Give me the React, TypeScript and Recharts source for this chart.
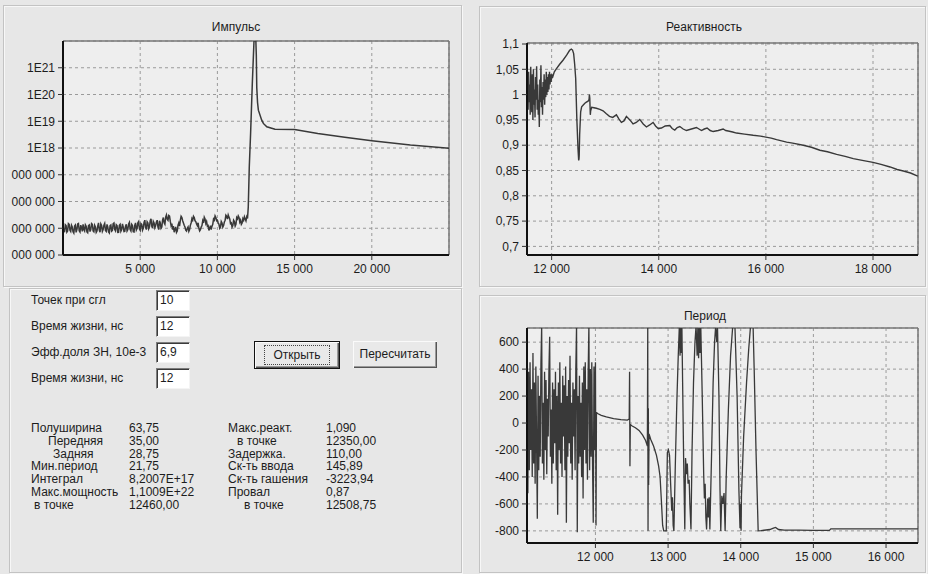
import React from 'react';
import { LineChart, Line, XAxis, YAxis, CartesianGrid, ReferenceLine } from 'recharts';

const FONT = '"Liberation Sans", Arial, Helvetica, sans-serif';
const LINE = '#393939';
const GRID = '#9a9a9a';
const PLOT_BG = '#eeeeee';
const PAGE_BG = '#e7e7e7';

// ---------- Импульс ----------
const pulseX = [
  0, 50, 100, 150, 200, 250, 300, 350, 400, 450, 500, 550, 600, 650, 700, 750, 800, 850, 900, 950,
  1000, 1050, 1100, 1150, 1200, 1250, 1300, 1350, 1400, 1450, 1500, 1550, 1600, 1650, 1700, 1750, 1800, 1850, 1900, 1950,
  2000, 2050, 2100, 2150, 2200, 2250, 2300, 2350, 2400, 2450, 2500, 2550, 2600, 2650, 2700, 2750, 2800, 2850, 2900, 2950,
  3000, 3050, 3100, 3150, 3200, 3250, 3300, 3350, 3400, 3450, 3500, 3550, 3600, 3650, 3700, 3750, 3800, 3850, 3900, 3950,
  4000, 4050, 4100, 4150, 4200, 4250, 4300, 4350, 4400, 4450, 4500, 4550, 4600, 4650, 4700, 4750, 4800, 4850, 4900, 4950,
  5000, 5050, 5100, 5150, 5200, 5250, 5300, 5350, 5400, 5450, 5500, 5550, 5600, 5650, 5700, 5750, 5800, 5850, 5900, 5950,
  6000, 6050, 6100, 6150, 6200, 6250, 6300, 6350, 6400, 6450, 6500, 6550, 6600, 6650, 6700, 6750, 6800, 6850, 6900, 6950,
  7000, 7050, 7100, 7150, 7200, 7250, 7300, 7350, 7400, 7450, 7500, 7550, 7600, 7650, 7700, 7750, 7800, 7850, 7900, 7950,
  8000, 8050, 8100, 8150, 8200, 8250, 8300, 8350, 8400, 8450, 8500, 8550, 8600, 8650, 8700, 8750, 8800, 8850, 8900, 8950,
  9000, 9050, 9100, 9150, 9200, 9250, 9300, 9350, 9400, 9450, 9500, 9550, 9600, 9650, 9700, 9750, 9800, 9850, 9900, 9950,
  10000, 10050, 10100, 10150, 10200, 10250, 10300, 10350, 10400, 10450, 10500, 10550, 10600, 10650, 10700, 10750, 10800, 10850, 10900, 10950,
  11000, 11050, 11100, 11150, 11200, 11250, 11300, 11350, 11400, 11450, 11500, 11550, 11600, 11650, 11700, 11750, 11800, 11850, 11900, 11950,
  12000, 12065, 12150, 12260, 12370, 12460, 12490, 12520, 12550, 12600, 12654, 12870, 12977, 13200, 13730, 15000, 16500, 18250, 20000, 22500, 25000,
];
const pulseY = [
  1.12e15, 8.3e14, 7.08e14, 1.35e15, 1.26e15, 7.2e14, 7.94e14, 1.5e15, 1.41e15, 8.5e14, 7.59e14, 1.3e15, 1.12e15, 7.4e14, 6.61e14, 1.2e15, 1.32e15, 7.0e14, 8.91e14, 1.45e15,
  1.51e15, 8.0e14, 7.24e14, 1.3e15, 1.05e15, 7.6e14, 1.41e15, 9.0e14, 7.94e14, 1.35e15, 1.2e15, 7.3e14, 6.76e14, 1.25e15, 1.32e15, 7.5e14, 8.91e14, 1.5e15, 1.41e15, 8.0e14,
  7.41e14, 1.3e15, 1.12e15, 7.0e14, 7.94e14, 1.2e15, 1.58e15, 8.5e14, 7.08e14, 1.45e15, 1.26e15, 7.6e14, 8.91e14, 1.3e15, 1.51e15, 8.2e14, 7.59e14, 1.4e15, 1.12e15, 7.2e14,
  6.61e14, 1.25e15, 1.32e15, 7.8e14, 8.32e14, 1.5e15, 1.58e15, 8.9e14, 7.94e14, 1.35e15, 1.26e15, 7.0e14, 7.08e14, 1.3e15, 1.41e15, 7.7e14, 8.91e14, 1.45e15, 1.12e15, 7.5e14,
  7.59e14, 1.2e15, 1.41e15, 7.9e14, 8.91e14, 1.45e15, 1.66e15, 9.0e14, 7.94e14, 1.4e15, 1.26e15, 7.4e14, 7.24e14, 1.3e15, 1.58e15, 8.6e14, 1.0e15, 1.6e15, 1.78e15, 9.5e14,
  8.32e14, 1.5e15, 1.41e15, 8.5e14, 1.0e15, 1.7e15, 2.0e15, 1.05e15, 8.91e14, 1.75e15, 1.58e15, 9.5e14, 1.12e15, 1.9e15, 2.24e15, 1.2e15, 1.0e15, 1.8e15, 1.58e15, 1.05e15,
  1.26e15, 1.7e15, 2.0e15, 1.1e15, 8.91e14, 1.9e15, 1.58e15, 1.0e15, 1.12e15, 2.0e15, 2.51e15, 1.6e15, 1.41e15, 2.6e15, 3.16e15, 2.2e15, 2.0e15, 3.0e15, 2.82e15, 1.8e15,
  1.26e15, 1.5e15, 8.91e14, 1.2e15, 7.08e14, 9.0e14, 1.12e15, 7.0e14, 7.94e14, 1.3e15, 1.58e15, 1.2e15, 2.0e15, 2.8e15, 2.51e15, 1.9e15, 1.58e15, 1.3e15, 1.12e15, 8.5e14,
  7.94e14, 1.0e15, 1.12e15, 7.6e14, 8.91e14, 1.3e15, 1.58e15, 2.3e15, 2.0e15, 2.8e15, 2.51e15, 1.9e15, 1.78e15, 1.45e15, 1.26e15, 1.6e15, 1.0e15, 8.0e14, 8.91e14, 1.1e15,
  1.26e15, 1.9e15, 1.58e15, 2.6e15, 2.24e15, 1.5e15, 1.78e15, 1.2e15, 1.26e15, 8.3e14, 1.0e15, 1.25e15, 8.91e14, 1.2e15, 1.41e15, 2.2e15, 2.0e15, 2.9e15, 2.51e15, 1.9e15,
  2.0e15, 1.6e15, 1.41e15, 1.0e15, 1.12e15, 1.8e15, 1.58e15, 1.1e15, 1.26e15, 1.7e15, 2.0e15, 3.1e15, 2.82e15, 2.2e15, 3.16e15, 2.6e15, 2.24e15, 1.5e15, 1.58e15, 1.1e15,
  1.26e15, 2.0e15, 1.78e15, 1.2e15, 1.41e15, 2.5e15, 2.24e15, 2.9e15, 2.51e15, 1.7e15, 2.0e15, 1.4e15, 1.58e15, 2.3e15, 2.0e15, 2.7e15, 2.24e15, 1.9e15, 2.69e15, 2.3e15,
  6.3e15, 2.0e17, 3.5e18, 2.5e20, 1.0e22, 1.1e22, 1.05e22, 3.0e21, 1.8e20, 5.0e19, 2.6e19, 1.1e19, 8.3e18, 6.2e18, 5.0e18, 4.9e18, 3.5e18, 2.5e18, 1.86e18, 1.29e18, 9.8e17,
];
const pulseTicksX = [5000, 10000, 15000, 20000];
const pulseLabelsX = ['5 000', '10 000', '15 000', '20 000'];
const pulseMinorX = [1000, 2000, 3000, 4000, 5000, 6000, 7000, 8000, 9000, 10000, 11000, 12000, 13000, 14000, 15000, 16000, 17000, 18000, 19000, 20000, 21000, 22000, 23000, 24000];
const pulseTicksY = [1e14, 1e15, 1e16, 1e17, 1e18, 1e19, 1e20, 1e21];
const pulseLabelsY = ['000 000', '000 000', '000 000', '000 000', '1E18', '1E19', '1E20', '1E21'];

// ---------- Реактивность ----------
const reactX = [
  11540, 11550, 11560, 11570, 11580, 11590, 11600, 11610, 11620, 11630,
  11640, 11650, 11660, 11670, 11680, 11690, 11700, 11710, 11720, 11730,
  11740, 11750, 11760, 11770, 11780, 11790, 11800, 11810, 11820, 11830,
  11840, 11850, 11860, 11870, 11880, 11890, 11900, 11910, 11920, 11930,
  11940, 11950, 11960, 11970, 11980, 11990, 12000, 12020,
  12050, 12087, 12150, 12212, 12280, 12336, 12368, 12390, 12411, 12430,
  12449, 12470, 12492, 12505, 12511, 12515, 12523, 12542, 12560, 12586,
  12620, 12648, 12680, 12698, 12705, 12712, 12722, 12729, 12748, 12790,
  12835, 12900, 12960, 13022, 13080, 13140, 13209, 13255, 13302, 13350,
  13396, 13460, 13520, 13580, 13645, 13710, 13770, 13830, 13894, 13940,
  13988, 14050, 14120, 14206, 14250, 14299, 14345, 14393, 14455, 14517,
  14610, 14704, 14750, 14798, 14850, 14903, 14960, 15016, 15110, 15202,
  15250, 15296, 15380, 15452, 15600, 15763, 15900, 16000, 16100, 16200,
  16387, 16500, 16698, 16850, 17009, 17150, 17321, 17480, 17632, 17800,
  18000, 18150, 18318, 18450, 18567, 18700, 18835,
];
const reactY = [
  0.975, 1.03, 0.97, 1.045, 0.985, 1.02, 0.96, 1.055, 0.99, 0.965,
  1.04, 0.95, 1.05, 0.98, 1.01, 0.955, 1.035, 0.99, 1.056, 0.97,
  1.02, 0.96, 0.99, 0.936, 1.03, 0.985, 1.058, 0.975, 1.015, 0.96,
  1.025, 0.99, 1.04, 0.98, 1.03, 0.995, 1.045, 1.0, 1.035, 1.005,
  1.04, 1.01, 1.045, 1.02, 1.04, 1.025, 1.04, 1.035,
  1.045, 1.051, 1.06, 1.068, 1.078, 1.0876, 1.09, 1.088, 1.081, 1.06,
  1.032, 0.953, 0.8933, 0.87, 0.873, 0.88, 0.92, 0.966, 0.976, 0.979,
  0.983, 0.985, 0.987, 0.99, 1.0, 0.993, 0.96, 0.968, 0.975, 0.974,
  0.973, 0.971, 0.968, 0.962, 0.957, 0.955, 0.96, 0.952, 0.945, 0.948,
  0.957, 0.95, 0.942, 0.945, 0.951, 0.942, 0.936, 0.94, 0.945, 0.938,
  0.933, 0.934, 0.938, 0.939, 0.933, 0.93, 0.935, 0.937, 0.932, 0.929,
  0.932, 0.935, 0.932, 0.929, 0.932, 0.934, 0.929, 0.927, 0.929, 0.932,
  0.929, 0.928, 0.926, 0.924, 0.922, 0.9196, 0.918, 0.916, 0.914, 0.911,
  0.906, 0.904, 0.9, 0.896, 0.89, 0.887, 0.882, 0.878, 0.8735, 0.87,
  0.866, 0.862, 0.857, 0.852, 0.849, 0.845, 0.839,
];
const reactTicksX = [12000, 14000, 16000, 18000];
const reactLabelsX = ['12 000', '14 000', '16 000', '18 000'];
const reactMinorX = [12000, 12500, 13000, 13500, 14000, 14500, 15000, 15500, 16000, 16500, 17000, 17500, 18000, 18500];
const reactTicksY = [0.7, 0.75, 0.8, 0.85, 0.9, 0.95, 1, 1.05, 1.1];
const reactLabelsY = ['0,7', '0,75', '0,8', '0,85', '0,9', '0,95', '1', '1,05', '1,1'];

// ---------- Период ----------
const periodX = [
  11060, 11070, 11080, 11090, 11100, 11110, 11120, 11130, 11140, 11150,
  11160, 11170, 11180, 11190, 11200, 11210, 11220, 11230, 11240, 11250,
  11260, 11270, 11280, 11290, 11300, 11310, 11320, 11330, 11340, 11350,
  11360, 11370, 11380, 11390, 11400, 11410, 11420, 11430, 11440, 11450,
  11460, 11470, 11480, 11490, 11500, 11510, 11520, 11530, 11540, 11550,
  11560, 11570, 11580, 11590, 11600, 11610, 11620, 11630, 11640, 11650,
  11660, 11670, 11680, 11690, 11700, 11710, 11720, 11730, 11740, 11750,
  11760, 11770, 11780, 11790, 11800, 11810, 11820, 11830, 11840, 11850,
  11860, 11870, 11880, 11890, 11900, 11910, 11920, 11930, 11940, 11950,
  11960, 11970, 11980, 11990, 12000, 12008, 12014,
  12030, 12080, 12150, 12250, 12350, 12440, 12465, 12470, 12475, 12480,
  12500, 12550, 12600, 12650, 12690, 12715, 12720, 12724, 12728, 12732,
  12738, 12760, 12800, 12840, 12870, 12890, 12910, 12925, 12940, 12975,
  12990, 13005, 13020, 13035, 13050, 13060, 13070, 13080, 13100, 13120,
  13140, 13155, 13165, 13170, 13180, 13190, 13200, 13215, 13230, 13240,
  13255, 13265, 13275, 13290, 13300, 13315, 13330, 13350, 13370, 13385,
  13400, 13410, 13420, 13430, 13440, 13450, 13470, 13490, 13500, 13510,
  13520, 13530, 13545, 13555, 13565, 13575, 13600, 13620, 13640, 13655,
  13670, 13680, 13700, 13715, 13725, 13740, 13755, 13770, 13785, 13800,
  13830, 13860, 13890, 13920, 13950, 13975, 13990, 14000, 14005, 14010,
  14040, 14080, 14110, 14135, 14170, 14185, 14210, 14240, 14280, 14400,
  14450, 14480, 14520, 14600, 14800, 15000, 15220, 15240, 15500, 16000, 16440,
];
const periodY = [
  620, -520, 380, -350, 450, -200, 250, -400, 520, -300,
  300, -450, 420, -150, -710, 350, -350, 200, -250, 450,
  720, -300, 150, -420, 380, -200, 320, -380, 180, -100,
  400, 640, -250, 100, -450, 300, -300, 250, -150, 380,
  -350, 200, -680, 300, -200, 450, -300, 150, -400, 350,
  -100, 280, -350, 420, -740, 200, -250, 320, -150, 500,
  -300, 150, -420, 300, -100, 250, -350, 400, 720, -810,
  200, -300, 350, -250, 150, -400, 300, -560, 420, -200,
  450, -300, 250, -420, 380, 720, -350, 400, -250, 450,
  -300, -740, 420, -200, 450, -760, 80,
  70, 57, 45, 33, 25, 22, 30, 380, -320, -10,
  -20, -35, -55, -90, -130, -170, 720, -800, 110, -460,
  -80, -120, -170, -240, -320, -400, -600, -760, -800, -800,
  -220, -200, -240, -450, -650, -550, -760, -800, -300, 150,
  500, 720, 500, 720, 520, 720, 300, -300, -790, -260,
  -380, -300, -450, -420, -600, -790, -200, 300, 600, 720,
  500, 720, 480, 720, 520, 720, 200, -380, -560, -450,
  -700, -790, -560, -700, -550, -790, -200, 300, 600, 720,
  600, 720, 200, -500, -800, -540, -600, -520, -800, -400,
  100, 500, 720, 720, 200, -500, -780, -600, -800, -540,
  -100, 300, 550, 720, 720, 400, -200, -800, -798, -790,
  -780, -775, -790, -795, -795, -797, -797, -785, -785, -785, -785,
];
const periodTicksX = [12000, 13000, 14000, 15000, 16000];
const periodLabelsX = ['12 000', '13 000', '14 000', '15 000', '16 000'];
const periodMinorX = [11250, 11500, 11750, 12000, 12250, 12500, 12750, 13000, 13250, 13500, 13750, 14000, 14250, 14500, 14750, 15000, 15250, 15500, 15750, 16000, 16250];
const periodTicksY = [-800, -600, -400, -200, 0, 200, 400, 600];
const periodLabelsY = ['-800', '-600', '-400', '-200', '0', '200', '400', '600'];

// ---------- Controls / results text ----------
const formLabels = ['Точек при сгл', 'Время жизни, нс', 'Эфф.доля ЗН, 10е-3', 'Время жизни, нс'];
const formValues = ['10', '12', '6,9', '12'];
const statLabelsL = ['Полуширина', 'Передняя', 'Задняя', 'Мин.период', 'Интеграл', 'Макс.мощность', 'в точке'];
const statValuesL = ['63,75', '35,00', '28,75', '21,75', '8,2007E+17', '1,1009E+22', '12460,00'];
const statLabelsR = ['Макс.реакт.', 'в точке', 'Задержка.', 'Ск-ть ввода', 'Ск-ть гашения', 'Провал', 'в точке'];
const statValuesR = ['1,090', '12350,00', '110,00', '145,89', '-3223,94', '0,87', '12508,75'];
const statIndentL = [0, 17, 22, 0, 0, 0, 3];
const statIndentR = [0, 9, 0, 0, 0, 0, 16];

const zip = (xs: number[], ys: number[]) => xs.map((x, i) => ({ x, y: ys[i] }));
const labelFor = (ticks: number[], labels: string[]) => (v: number) => {
  const i = ticks.findIndex((t) => Math.abs(t - v) <= Math.abs(t) * 1e-6 + 1e-9);
  return i >= 0 ? labels[i] : '';
};

const tickStyle = { fontSize: 12, fill: '#1c1c1c', fontFamily: FONT };
const axisLineStyle = { stroke: '#111', strokeWidth: 2 };
const tickLineStyle = { stroke: '#333' };

type PlotProps = {
  width: number;
  height: number;
  margin: { top: number; right: number; bottom: number; left: number };
  data: { x: number; y: number }[];
  xDomain: [number, number];
  yDomain: [number, number];
  xTicks: number[];
  xLabels: string[];
  xMinor: number[];
  yTicks: number[];
  yLabels: string[];
  yWidth: number;
  yScale?: 'log' | 'linear';
  strokeWidth: number;
};

function Plot(p: PlotProps) {
  return (
    <LineChart width={p.width} height={p.height} data={p.data} margin={p.margin}>
      <CartesianGrid stroke={GRID} strokeDasharray="3 3" fill={PLOT_BG} fillOpacity={1} />
      <XAxis
        xAxisId="minor"
        type="number"
        dataKey="x"
        domain={p.xDomain}
        allowDataOverflow
        ticks={p.xMinor}
        interval={0}
        tick={false}
        tickSize={3}
        height={0}
        axisLine={false}
        tickLine={tickLineStyle}
      />
      <XAxis
        type="number"
        dataKey="x"
        domain={p.xDomain}
        allowDataOverflow
        ticks={p.xTicks}
        interval={0}
        tickFormatter={labelFor(p.xTicks, p.xLabels)}
        tick={tickStyle}
        tickSize={5}
        tickMargin={4}
        height={20}
        axisLine={axisLineStyle}
        tickLine={tickLineStyle}
      />
      <YAxis
        type="number"
        dataKey="y"
        scale={p.yScale || 'linear'}
        domain={p.yDomain}
        allowDataOverflow
        ticks={p.yTicks}
        interval={0}
        tickFormatter={labelFor(p.yTicks, p.yLabels)}
        tick={tickStyle}
        tickSize={5}
        tickMargin={3}
        width={p.yWidth}
        axisLine={axisLineStyle}
        tickLine={tickLineStyle}
      />
      <ReferenceLine y={p.yDomain[1]} stroke="#777" strokeWidth={1.5} />
      <ReferenceLine x={p.xDomain[1]} stroke="#777" strokeWidth={1.5} />
      <Line type="linear" dataKey="y" stroke={LINE} strokeWidth={p.strokeWidth} dot={false} isAnimationActive={false} />
    </LineChart>
  );
}

const panel = (left: number, top: number, width: number, height: number): React.CSSProperties => ({
  position: 'absolute',
  left,
  top,
  width,
  height,
  boxSizing: 'border-box',
  border: '1px solid #c3c3c3',
  boxShadow: 'inset 1px 1px 0 #f7f7f7, 1px 1px 0 #f7f7f7',
});

const abs = (left: number, top: number, extra: React.CSSProperties = {}): React.CSSProperties => ({
  position: 'absolute',
  left,
  top,
  ...extra,
});

const title = (cx: number, cy: number): React.CSSProperties => ({
  position: 'absolute',
  left: cx - 60,
  top: cy - 8,
  width: 120,
  textAlign: 'center',
  fontSize: 12,
  lineHeight: '16px',
  color: '#1c1c1c',
});

const FIELD_TOPS = [290, 316, 342, 368];
const STAT_TOP = 421;
const STAT_STEP = 12.8;

export default function App() {
  return (
    <div
      style={{
        position: 'absolute',
        left: 0,
        top: 0,
        width: 928,
        height: 574,
        overflow: 'hidden',
        background: PAGE_BG,
        fontFamily: FONT,
        color: '#1c1c1c',
      }}
    >
      <div style={panel(3, 5, 459, 282)} />
      <div style={panel(9, 288, 453, 285)} />
      <div style={panel(479, 6, 447, 281)} />
      <div style={panel(479, 295, 447, 278)} />

      <div style={title(236, 27)}>Импульс</div>
      <div style={title(704, 27)}>Реактивность</div>
      <div style={title(705, 316)}>Период</div>

      <div style={abs(0, 0)}>
        <Plot
          width={470}
          height={290}
          margin={{ top: 41, right: 21, bottom: 15, left: 5 }}
          data={zip(pulseX, pulseY)}
          xDomain={[0, 25000]}
          yDomain={[1e14, 1e22]}
          xTicks={pulseTicksX}
          xLabels={pulseLabelsX}
          xMinor={pulseMinorX}
          yTicks={pulseTicksY}
          yLabels={pulseLabelsY}
          yWidth={58}
          yScale="log"
          strokeWidth={1.5}
        />
      </div>

      <div style={abs(470, 0)}>
        <Plot
          width={458}
          height={290}
          margin={{ top: 43, right: 10, bottom: 15, left: 5 }}
          data={zip(reactX, reactY)}
          xDomain={[11540, 18840]}
          yDomain={[0.683, 1.102]}
          xTicks={reactTicksX}
          xLabels={reactLabelsX}
          xMinor={reactMinorX}
          yTicks={reactTicksY}
          yLabels={reactLabelsY}
          yWidth={52}
          strokeWidth={1.4}
        />
      </div>

      <div style={abs(470, 290)}>
        <Plot
          width={458}
          height={284}
          margin={{ top: 38, right: 10, bottom: 11, left: 5 }}
          data={zip(periodX, periodY)}
          xDomain={[11058, 16440]}
          yDomain={[-890, 705]}
          xTicks={periodTicksX}
          xLabels={periodLabelsX}
          xMinor={periodMinorX}
          yTicks={periodTicksY}
          yLabels={periodLabelsY}
          yWidth={52}
          strokeWidth={1.3}
        />
      </div>

      {formLabels.map((lbl, i) => (
        <div key={'fl' + i} style={abs(31, FIELD_TOPS[i] + 2, { fontSize: 12, lineHeight: '16px' })}>
          {lbl}
        </div>
      ))}
      {formValues.map((v, i) => (
        <div
          key={'fv' + i}
          style={abs(156, FIELD_TOPS[i], {
            width: 34,
            height: 21,
            boxSizing: 'border-box',
            background: '#ffffff',
            borderTop: '1px solid #7d7d7d',
            borderLeft: '1px solid #7d7d7d',
            borderRight: '1px solid #f4f4f4',
            borderBottom: '1px solid #f4f4f4',
            boxShadow: 'inset 1px 1px 0 #3a3a3a',
            fontSize: 12,
            lineHeight: '19px',
            paddingLeft: 3,
          })}
        >
          {v}
        </div>
      ))}

      <div
        style={abs(254, 341, {
          width: 86,
          height: 28,
          boxSizing: 'border-box',
          border: '1px solid #111',
          boxShadow: 'inset 1px 1px 0 #fafafa, inset -1px -1px 0 #555, inset -2px -2px 0 #9a9a9a',
          background: '#e9e9e9',
          fontSize: 12,
          lineHeight: '26px',
          textAlign: 'center',
        })}
      >
        <span style={{ outline: '1px dotted #444', outlineOffset: 2, padding: '0 6px' }}>Открыть</span>
      </div>
      <div
        style={abs(353, 341, {
          width: 84,
          height: 27,
          boxSizing: 'border-box',
          boxShadow: 'inset 1px 1px 0 #fafafa, inset -1px -1px 0 #555, inset -2px -2px 0 #9a9a9a',
          background: '#e9e9e9',
          fontSize: 12,
          lineHeight: '26px',
          textAlign: 'center',
        })}
      >
        Пересчитать
      </div>

      {statLabelsL.map((s, i) => (
        <div key={'sl' + i} style={abs(31 + statIndentL[i], STAT_TOP + i * STAT_STEP, { fontSize: 12, lineHeight: '14px' })}>
          {s}
        </div>
      ))}
      {statValuesL.map((s, i) => (
        <div key={'sv' + i} style={abs(129, STAT_TOP + i * STAT_STEP, { fontSize: 12, lineHeight: '14px' })}>
          {s}
        </div>
      ))}
      {statLabelsR.map((s, i) => (
        <div key={'rl' + i} style={abs(228 + statIndentR[i], STAT_TOP + i * STAT_STEP, { fontSize: 12, lineHeight: '14px' })}>
          {s}
        </div>
      ))}
      {statValuesR.map((s, i) => (
        <div key={'rv' + i} style={abs(326, STAT_TOP + i * STAT_STEP, { fontSize: 12, lineHeight: '14px' })}>
          {s}
        </div>
      ))}
    </div>
  );
}
